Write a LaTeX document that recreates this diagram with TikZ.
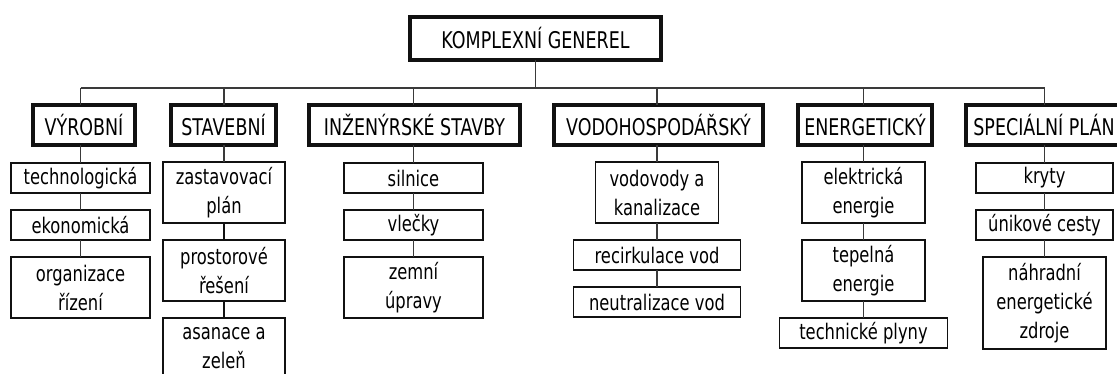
\documentclass[tikz,border=0pt]{standalone}
\usepackage{fontspec}
\setmainfont{DejaVu Sans}[FakeStretch=0.76]
\usepackage{tikz}
\usetikzlibrary{positioning}
\usepackage{xcolor}
\definecolor{planink}{HTML}{111111}
\definecolor{planlink}{HTML}{3A3A3A}
\tikzset{
  headbox/.style={
    draw=planink,
    line width=3.5pt,
    minimum width=251pt,
    minimum height=43pt,
    inner sep=0pt,
    outer sep=0pt,
    font=\fontsize{23}{29}\selectfont
  },
  groupbox/.style={
    draw=planink,
    line width=3.5pt,
    minimum height=40pt,
    inner sep=0pt,
    outer sep=0pt,
    font=\fontsize{23}{29}\selectfont
  },
  itembox/.style={
    draw=planink,
    line width=1.1pt,
    minimum height=30pt,
    inner sep=0pt,
    outer sep=0pt,
    align=center,
    font=\fontsize{21.5}{29}\selectfont
  },
  link/.style={
    draw=planlink,
    line width=1.1pt
  },
  heavylink/.style={
    draw=planink,
    line width=2.4pt
  }
}

\begin{document}
\begin{tikzpicture}[x=1pt, y=-1pt, node distance=17pt]
\useasboundingbox (0,0) rectangle (1117,374);
\clip (0,0) rectangle (1117,374);
\node[headbox] (gen) at (535.5,38.5) {KOMPLEXNÍ GENEREL};
\coordinate (bus) at (0,88);
\node[groupbox, minimum width=102pt] (vyr) at (84,125) {VÝROBNÍ};
\node[groupbox, minimum width=105pt] (sta) at (223.5,125) {STAVEBNÍ};
\node[groupbox, minimum width=211pt] (inz) at (414.5,125) {INŽENÝRSKÉ STAVBY};
\node[groupbox, minimum width=209pt] (vod) at (658.5,125) {VODOHOSPODÁŘSKÝ};
\node[groupbox, minimum width=134pt] (ene) at (865,125) {ENERGETICKÝ};
\node[groupbox, minimum width=156pt] (spe) at (1044,125) {SPECIÁLNÍ PLÁN};

\node[itembox, minimum width=139pt, anchor=north] (tec) at (80.5,163) {technologická};
\node[itembox, minimum width=139pt, below=of tec] (eko) {ekonomická};
\node[itembox, minimum width=139pt, minimum height=61pt, below=of eko] (org) {organizace\\řízení};

\node[itembox, minimum width=122pt, minimum height=61pt, anchor=north] (zas) at (224,162) {zastavovací\\plán};
\node[itembox, minimum width=122pt, minimum height=61pt, below=of zas] (pro) {prostorové\\řešení};
\node[itembox, minimum width=122pt, minimum height=61pt, below=of pro] (asa) {asanace a\\zeleň};

\node[itembox, minimum width=139pt, anchor=north] (sil) at (413.5,163) {silnice};
\node[itembox, minimum width=139pt, below=of sil] (vle) {vlečky};
\node[itembox, minimum width=139pt, minimum height=61pt, below=of vle] (zem) {zemní\\úpravy};

\node[itembox, minimum width=123pt, minimum height=61pt, anchor=north] (vdv) at (657,162) {vodovody a\\kanalizace};
\node[itembox, minimum width=167pt, below=of vdv] (rec) {recirkulace vod};
\node[itembox, minimum width=167pt, below=of rec] (neu) {neutralizace vod};

\node[itembox, minimum width=123pt, minimum height=61pt, anchor=north] (ele) at (863.5,162) {elektrická\\energie};
\node[itembox, minimum width=123pt, minimum height=61pt, below=of ele] (tep) {tepelná\\energie};
\node[itembox, minimum width=168pt, below=of tep] (tpl) {technické plyny};

\node[itembox, minimum width=137pt, anchor=north] (kry) at (1044.5,163) {kryty};
\node[itembox, minimum width=137pt, below=of kry] (uni) {únikové cesty};
\node[itembox, minimum width=123pt, minimum height=92pt, below=of uni] (nah) {náhradní\\energetické\\zdroje};

\draw[link] (gen.south) -- (gen.south |- bus);
\draw[link] (tec |- bus) -- (kry |- bus);
\foreach \g/\i in {vyr/tec, sta/zas, inz/sil, vod/vdv, ene/ele, spe/kry} {
  \draw[link] (\i |- bus) -- (\i |- \g.north);
  \draw[link] (\i |- \g.south) -- (\i.north);
}
\foreach \a/\b in {tec/eko, eko/org, sil/vle, vle/zem, vdv/rec, rec/neu, ele/tep, tep/tpl, kry/uni, uni/nah}
  \draw[link] (\a) -- (\b);
\draw[heavylink] (zas) -- (pro);
\draw[heavylink] (pro) -- (asa);
\end{tikzpicture}
\end{document}
